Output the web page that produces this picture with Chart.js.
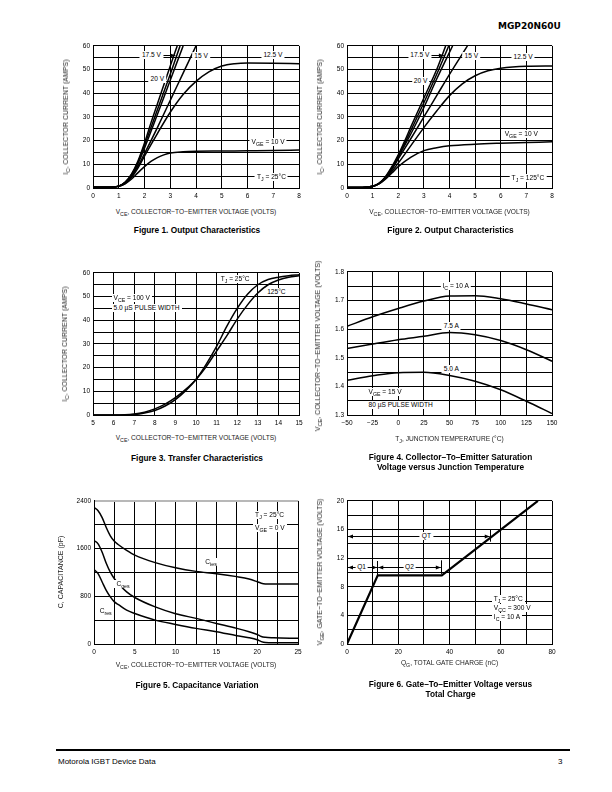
<!DOCTYPE html>
<html>
<head>
<meta charset="utf-8">
<script src="https://cdn.jsdelivr.net/npm/chart.js@4.4.1/dist/chart.umd.min.js"></script>
<style>
  body { margin:0; width:612px; height:792px; position:relative; background:#fff; overflow:hidden;
         font-family:"Liberation Sans", Arial, Helvetica, sans-serif; color:#000; }
  .wrap { position:absolute; }
  .lbl  { position:absolute; font-size:6.6px; line-height:8px; background:#fff; padding:0 2px; white-space:nowrap; }
  .ax   { position:absolute; font-size:6.6px; line-height:8px; white-space:nowrap; color:#222; }
  .ax.x { transform:translate(-50%,-50%); }
  .ax.y { font-size:7px; transform:translate(-50%,-50%) rotate(-90deg); }
  sub   { font-size:0.8em; vertical-align:-0.35em; line-height:0; }
  .cap  { position:absolute; font-size:8.3px; font-weight:bold; line-height:10px; text-align:center;
          transform:translateX(-50%); white-space:nowrap; }
  #hdr  { position:absolute; left:498px; top:19.5px; font:bold 9px "DejaVu Sans", sans-serif; line-height:12px; }
  #rule { position:absolute; left:56px; top:749px; width:514px; height:2px; background:#000; }
  .foot { position:absolute; top:757px; font-size:8px; line-height:10px; }
</style>
</head>
<body>
<div id="hdr">MGP20N60U</div>
<div id="rule"></div>
<div class="foot" style="left:58px">Motorola IGBT Device Data</div>
<div class="foot" style="left:558px">3</div>

<script>
'use strict';

// ── Data ───────────────────────────────────────────────────────────────────

// Figure 1: output characteristics, TJ = 25°C  (VCE volts -> IC amps)
const fig1X20   = [0, 0.6, 1, 1.25, 1.5, 1.75, 2, 2.25, 2.5, 3, 3.27];
const fig1Y20   = [0.3, 0.3, 0.8, 2.5, 6, 11.5, 19, 27.5, 35.5, 51.5, 60];
const fig1X175  = [0, 0.6, 1, 1.25, 1.5, 1.75, 2, 2.25, 2.5, 3, 3.38];
const fig1Y175  = [0.3, 0.3, 0.8, 2.4, 5.7, 11, 18, 25.5, 33, 48, 60];
const fig1XMid  = [0, 0.6, 1, 1.25, 1.5, 1.75, 2, 2.5, 3, 3.5];
const fig1YMid  = [0.3, 0.3, 0.8, 2.3, 5.4, 10.4, 16.8, 31, 45.5, 60];
const fig1X15   = [0, 0.6, 1, 1.25, 1.5, 1.75, 2, 2.5, 3, 3.5, 4];
const fig1Y15   = [0.3, 0.3, 0.8, 2.2, 5, 9.3, 14.5, 25.5, 37, 48.5, 60];
const fig1X125  = [0, 0.6, 1, 1.25, 1.5, 1.75, 2, 2.5, 3, 3.5, 4, 4.5, 5, 5.5, 6, 7, 8];
const fig1Y125  = [0.3, 0.3, 0.7, 2, 4.5, 8.5, 13.5, 23, 32, 39.5, 45, 49, 51.5, 52.5, 52.8, 52.7, 52.5];
const fig1X10   = [0, 0.6, 1, 1.25, 1.5, 1.75, 2, 2.25, 2.5, 2.75, 3, 3.5, 4, 5, 6, 7, 8];
const fig1Y10   = [0.3, 0.3, 0.7, 1.8, 3.8, 6.5, 9, 11.2, 12.8, 14, 14.8, 15.3, 15.5, 15.6, 15.7, 15.8, 16];

// Figure 2: output characteristics, TJ = 125°C
const fig2X20   = [0, 0.6, 1, 1.25, 1.5, 1.75, 2, 2.25, 2.5, 3, 3.5, 3.85];
const fig2Y20   = [0.2, 0.2, 0.7, 2, 4.8, 9, 14, 19.8, 26, 38, 50, 60];
const fig2X175  = [0, 0.6, 1, 1.25, 1.5, 1.75, 2, 2.25, 2.5, 3, 3.5, 3.97];
const fig2Y175  = [0.2, 0.2, 0.7, 2, 4.6, 8.6, 13.5, 18.8, 24.5, 36, 48, 60];
const fig2XMid  = [0, 0.6, 1, 1.25, 1.5, 1.75, 2, 2.5, 3, 3.5, 4.12];
const fig2YMid  = [0.2, 0.2, 0.7, 1.9, 4.4, 8.2, 13, 23, 34, 46, 60];
const fig2X15   = [0, 0.6, 1, 1.25, 1.5, 1.75, 2, 2.5, 3, 3.5, 4, 4.7];
const fig2Y15   = [0.2, 0.2, 0.7, 1.9, 4.2, 7.8, 12.3, 21, 30, 39, 48, 60];
const fig2X125  = [0, 0.6, 1, 1.25, 1.5, 1.75, 2, 2.5, 3, 3.5, 4, 4.5, 5, 5.5, 6, 7, 8];
const fig2Y125  = [0.2, 0.2, 0.6, 1.8, 4, 7, 10.5, 18, 25.5, 32.5, 39, 44, 47.4, 49.5, 50.6, 51.4, 51.5];
const fig2X10   = [0, 0.6, 1, 1.25, 1.5, 1.75, 2, 2.5, 3, 3.5, 4, 5, 6, 7, 8];
const fig2Y10   = [0.2, 0.2, 0.6, 1.7, 3.7, 6.3, 9, 13, 15.8, 17, 17.8, 18.5, 18.9, 19.2, 19.5];

// Figure 3: transfer characteristics
const fig3Vge   = [5, 6, 7, 7.5, 8, 8.5, 9, 9.5, 10, 10.5, 11, 11.5, 12, 12.5, 13, 13.5, 14, 14.5, 15];
const fig3Ic25  = [0, 0, 0.2, 0.8, 1.9, 3.8, 6.5, 10.3, 15, 21.5, 29, 37.5, 45, 51, 55, 57.2, 58.2, 58.8, 59.2];
const fig3Ic125 = [0, 0, 0.4, 1.2, 2.6, 4.6, 7.3, 10.8, 15, 20.5, 27, 33.5, 40.5, 46.5, 51.5, 55, 57, 58.2, 58.8];

// Figure 4: VCE(sat) vs junction temperature
const fig4Tj    = [-50, -25, 0, 25, 50, 75, 100, 125, 150];
const fig4Ic10  = [1.61, 1.643, 1.672, 1.698, 1.716, 1.717, 1.706, 1.688, 1.668];
const fig4Ic75  = [1.532, 1.548, 1.563, 1.575, 1.588, 1.58, 1.56, 1.528, 1.488];
const fig4Ic5   = [1.421, 1.437, 1.448, 1.449, 1.438, 1.418, 1.388, 1.348, 1.305];

// Figure 5: capacitance variation (pF)
const fig5Vce   = [0, 0.5, 1, 1.5, 2, 2.5, 3, 4, 5, 7.5, 10, 12.5, 15, 17.5, 19, 20, 20.5, 21, 22, 25];
const fig5Cies  = [2290, 2235, 2120, 1955, 1815, 1722, 1665, 1570, 1490, 1365, 1278, 1218, 1180, 1130, 1090, 1045, 1020, 1008, 1005, 1005];
const fig5Coes  = [1735, 1680, 1540, 1355, 1205, 1095, 1010, 875, 780, 622, 508, 430, 345, 262, 205, 160, 125, 112, 105, 95];
const fig5Cres  = [1250, 1180, 1040, 900, 790, 706, 660, 567, 511, 400, 328, 262, 206, 140, 105, 70, 40, 25, 22, 22];

// Figure 6: gate charge
const fig6Qg    = [0, 12, 37, 74.5];
const fig6Vge   = [0, 9.6, 9.6, 20];

// ── Ticks ──────────────────────────────────────────────────────────────────

const outXGrid  = [0, 1, 2, 3, 4, 5, 6, 7, 8];
const outXVals  = [0, 1, 2, 3, 4, 5, 6, 7, 8];
const outXText  = ['0', '1', '2', '3', '4', '5', '6', '7', '8'];
const ampYGrid  = [0, 5, 10, 15, 20, 25, 30, 35, 40, 45, 50, 55, 60];
const ampYVals  = [0, 10, 20, 30, 40, 50, 60];
const ampYText  = ['0', '10', '20', '30', '40', '50', '60'];

const fig3XGrid = [5, 6, 7, 8, 9, 10, 11, 12, 13, 14, 15];
const fig3XText = ['5', '6', '7', '8', '9', '10', '11', '12', '13', '14', '15'];

const fig4XGrid = [-50, -25, 0, 25, 50, 75, 100, 125, 150];
const fig4XText = ['\u221250', '\u221225', '0', '25', '50', '75', '100', '125', '150'];
const fig4YGrid = [1.3, 1.35, 1.4, 1.45, 1.5, 1.55, 1.6, 1.65, 1.7, 1.75, 1.8];
const fig4YVals = [1.3, 1.4, 1.5, 1.6, 1.7, 1.8];
const fig4YText = ['1.3', '1.4', '1.5', '1.6', '1.7', '1.8'];

const fig5XGrid = [0, 2.5, 5, 7.5, 10, 12.5, 15, 17.5, 20, 22.5, 25];
const fig5XVals = [0, 5, 10, 15, 20, 25];
const fig5XText = ['0', '5', '10', '15', '20', '25'];
const fig5YGrid = [0, 400, 800, 1200, 1600, 2000, 2400];
const fig5YVals = [0, 800, 1600, 2400];
const fig5YText = ['0', '800', '1600', '2400'];

const fig6XGrid = [0, 10, 20, 30, 40, 50, 60, 70, 80];
const fig6XVals = [0, 20, 40, 60, 80];
const fig6XText = ['0', '20', '40', '60', '80'];
const fig6YGrid = [0, 2, 4, 6, 8, 10, 12, 14, 16, 18, 20];
const fig6YVals = [0, 4, 8, 12, 16, 20];
const fig6YText = ['0', '4', '8', '12', '16', '20'];

// ── Helpers ────────────────────────────────────────────────────────────────

const FONT = '"Liberation Sans", Arial, Helvetica, sans-serif';
const PAD  = { l: 30, t: 6, r: 10, b: 14 };

function pts(xs, ys) { return xs.map((x, i) => ({ x, y: ys[i] })); }

function labeler(vals, texts) {
  return v => {
    const i = vals.findIndex(t => Math.abs(t - v) < 1e-6);
    return i < 0 ? '' : texts[i];
  };
}

function addDiv(cls, html, css) {
  const d = document.createElement('div');
  d.className = cls;
  d.innerHTML = html;
  Object.assign(d.style, css);
  document.body.appendChild(d);
  return d;
}

function arrowHead(ctx, x, y, dir) {
  ctx.beginPath();
  ctx.moveTo(x, y);
  ctx.lineTo(x - dir * 5, y - 2);
  ctx.lineTo(x - dir * 5, y + 2);
  ctx.closePath();
  ctx.fill();
}

// dimension arrows and ticks, placed in data units
const markPlugin = {
  id: 'marks',
  afterDatasetsDraw(chart, args, opts) {
    const { ctx, scales: { x, y } } = chart;
    ctx.save();
    ctx.strokeStyle = '#000';
    ctx.fillStyle = '#000';
    ctx.lineWidth = 1;
    (opts.items || []).forEach(m => {
      if (m.type === 'tick') {
        const px = Math.round(x.getPixelForValue(m.x)) + 0.5;
        ctx.beginPath();
        ctx.moveTo(px, y.getPixelForValue(m.y1));
        ctx.lineTo(px, y.getPixelForValue(m.y2));
        ctx.stroke();
        return;
      }
      const x1 = x.getPixelForValue(m.x1), x2 = x.getPixelForValue(m.x2);
      const py = Math.round(y.getPixelForValue(m.y)) + 0.5;
      ctx.beginPath();
      ctx.moveTo(x1, py);
      ctx.lineTo(x2, py);
      ctx.stroke();
      if (m.start) arrowHead(ctx, x1, py, -1);
      if (m.end)   arrowHead(ctx, x2, py, 1);
    });
    ctx.restore();
  }
};

function makeChart(cfg) {
  const [L, T, R, B] = cfg.plot;
  const w = R - L + PAD.l + PAD.r;
  const h = B - T + PAD.t + PAD.b;
  const left = L - PAD.l, top = T - PAD.t;

  const wrap = addDiv('wrap', '', { left: left + 'px', top: top + 'px', width: w + 'px', height: h + 'px' });
  const cv = document.createElement('canvas');
  cv.width = w; cv.height = h;
  wrap.appendChild(cv);

  const tickFont = { family: FONT, size: 6.5 };
  const axis = (grid, vals, texts, min, max, isX) => ({
    type: 'linear', min, max,
    grid: {
      // the top frame line of figure 5 is a light grey rule in the original
      color: c => (!isX && cfg.greyTop && c.tick && c.tick.value === max) ? '#b8b8b8' : '#000',
      lineWidth: c => (!isX && cfg.greyTop && c.tick && c.tick.value === max) ? 2 : 1,
      drawTicks: false
    },
    border: { color: '#000', width: 1 },
    ticks: {
      color: '#000', font: tickFont, padding: isX ? 4 : 3,
      autoSkip: false, maxRotation: 0,
      callback: labeler(vals, texts)
    },
    afterBuildTicks: s => { s.ticks = grid.map(v => ({ value: v })); },
    afterFit: s => { if (isX) s.height = PAD.b; else s.width = PAD.l; }
  });

  const chart = new Chart(cv, {
    type: 'scatter',
    data: {
      datasets: cfg.series.map(s => ({
        data: pts(s.x, s.y),
        showLine: true,
        borderColor: '#000',
        borderWidth: s.w || 1.5,
        pointRadius: 0,
        tension: s.straight ? 0 : 0.4,
        cubicInterpolationMode: s.straight ? 'default' : 'monotone'
      }))
    },
    options: {
      responsive: false,
      animation: false,
      devicePixelRatio: 1,
      layout: { padding: { left: 0, top: PAD.t, right: PAD.r, bottom: 0 } },
      plugins: { legend: { display: false }, tooltip: { enabled: false }, marks: { items: cfg.marks || [] } },
      scales: {
        x: axis(cfg.xGrid, cfg.xVals, cfg.xText, cfg.xMin, cfg.xMax, true),
        y: axis(cfg.yGrid, cfg.yVals, cfg.yText, cfg.yMin, cfg.yMax, false)
      }
    },
    plugins: [markPlugin]
  });

  // in-plot labels, white boxes over the grid
  (cfg.labels || []).forEach(l => {
    addDiv('lbl', l.t, {
      left: (left + chart.scales.x.getPixelForValue(l.x)) + 'px',
      top:  (top + chart.scales.y.getPixelForValue(l.y)) + 'px',
      transform: l.a === 'l' ? 'translate(0,-50%)' : 'translate(-50%,-50%)'
    });
  });

  // axis titles and caption
  addDiv('ax x', cfg.xTitle, { left: ((L + R) / 2) + 'px', top: cfg.xTitleY + 'px' });
  addDiv('ax y', cfg.yTitle, { left: cfg.yTitleX + 'px', top: ((T + B) / 2 + (cfg.yTitleDy || 0)) + 'px' });
  addDiv('cap', cfg.caption, { left: ((L + R) / 2 + 1) + 'px', top: cfg.capY + 'px' });
  return chart;
}

const VCE_TITLE = 'V<sub>CE</sub>, COLLECTOR\u2212TO\u2212EMITTER VOLTAGE (VOLTS)';

// ── Figures ────────────────────────────────────────────────────────────────

makeChart({
  plot: [93, 45, 299, 188],
  xMin: 0, xMax: 8, yMin: 0, yMax: 60,
  xGrid: outXGrid, xVals: outXVals, xText: outXText,
  yGrid: ampYGrid, yVals: ampYVals, yText: ampYText,
  series: [
    { x: fig1X20, y: fig1Y20 }, { x: fig1X175, y: fig1Y175 }, { x: fig1XMid, y: fig1YMid },
    { x: fig1X15, y: fig1Y15 }, { x: fig1X125, y: fig1Y125 }, { x: fig1X10, y: fig1Y10 }
  ],
  marks: [{ x1: 2.72, x2: 3.2, y: 56.3, end: true }],
  labels: [
    { x: 2.27, y: 56.3, t: '17.5 V' }, { x: 4.2, y: 55.6, t: '15 V' }, { x: 6.99, y: 56, t: '12.5 V' },
    { x: 2.5, y: 46, t: '20 V' }, { x: 6.8, y: 19.6, t: 'V<sub>GE</sub> = 10 V' },
    { x: 6.93, y: 4.8, t: 'T<sub>J</sub> = 25°C' }
  ],
  xTitle: VCE_TITLE, xTitleY: 211.5,
  yTitle: 'I<sub>C</sub>, COLLECTOR CURRENT (AMPS)', yTitleX: 66,
  caption: 'Figure 1. Output Characteristics', capY: 225
});

makeChart({
  plot: [347, 45, 552, 188],
  xMin: 0, xMax: 8, yMin: 0, yMax: 60,
  xGrid: outXGrid, xVals: outXVals, xText: outXText,
  yGrid: ampYGrid, yVals: ampYVals, yText: ampYText,
  series: [
    { x: fig2X20, y: fig2Y20 }, { x: fig2X175, y: fig2Y175 }, { x: fig2XMid, y: fig2YMid },
    { x: fig2X15, y: fig2Y15 }, { x: fig2X125, y: fig2Y125 }, { x: fig2X10, y: fig2Y10 }
  ],
  marks: [{ x1: 3.28, x2: 3.78, y: 56.2, end: true }],
  labels: [
    { x: 2.84, y: 56.2, t: '17.5 V' }, { x: 4.85, y: 55.6, t: '15 V' }, { x: 6.87, y: 55.5, t: '12.5 V' },
    { x: 2.87, y: 45, t: '20 V' }, { x: 6.8, y: 22.8, t: 'V<sub>GE</sub> = 10 V' },
    { x: 7.06, y: 4.3, t: 'T<sub>J</sub> = 125°C' }
  ],
  xTitle: VCE_TITLE, xTitleY: 211.5,
  yTitle: 'I<sub>C</sub>, COLLECTOR CURRENT (AMPS)', yTitleX: 320,
  caption: 'Figure 2. Output Characteristics', capY: 225
});

makeChart({
  plot: [93, 272, 299, 415],
  xMin: 5, xMax: 15, yMin: 0, yMax: 60,
  xGrid: fig3XGrid, xVals: fig3XGrid, xText: fig3XText,
  yGrid: ampYGrid, yVals: ampYVals, yText: ampYText,
  series: [{ x: fig3Vge, y: fig3Ic25 }, { x: fig3Vge, y: fig3Ic125 }],
  labels: [
    { x: 11.9, y: 57.5, t: 'T<sub>J</sub> = 25°C' }, { x: 13.9, y: 51.8, t: '125°C' },
    { x: 5.9, y: 49.6, t: 'V<sub>CE</sub> = 100 V', a: 'l' },
    { x: 5.9, y: 45.3, t: '5.0 µS PULSE WIDTH', a: 'l' }
  ],
  xTitle: VCE_TITLE, xTitleY: 438,
  yTitle: 'I<sub>C</sub>, COLLECTOR CURRENT (AMPS)', yTitleX: 65,
  caption: 'Figure 3. Transfer Characteristics', capY: 453
});

makeChart({
  plot: [347, 271, 552, 415],
  xMin: -50, xMax: 150, yMin: 1.3, yMax: 1.8,
  xGrid: fig4XGrid, xVals: fig4XGrid, xText: fig4XText,
  yGrid: fig4YGrid, yVals: fig4YVals, yText: fig4YText,
  series: [{ x: fig4Tj, y: fig4Ic10 }, { x: fig4Tj, y: fig4Ic75 }, { x: fig4Tj, y: fig4Ic5 }],
  labels: [
    { x: 56, y: 1.75, t: 'I<sub>C</sub> = 10 A' }, { x: 51.8, y: 1.61, t: '7.5 A' },
    { x: 51.8, y: 1.462, t: '5.0 A' },
    { x: -31, y: 1.379, t: 'V<sub>GE</sub> = 15 V', a: 'l' },
    { x: -31, y: 1.336, t: '80 µS PULSE WIDTH', a: 'l' }
  ],
  xTitle: 'T<sub>J</sub>, JUNCTION TEMPERATURE (°C)', xTitleY: 439,
  yTitle: VCE_TITLE, yTitleX: 318, yTitleDy: 3,
  caption: 'Figure 4. Collector\u2013To\u2013Emitter Saturation<br>Voltage versus Junction Temperature', capY: 452
});

makeChart({
  plot: [94, 500, 298, 644],
  xMin: 0, xMax: 25, yMin: 0, yMax: 2400,
  xGrid: fig5XGrid, xVals: fig5XVals, xText: fig5XText,
  yGrid: fig5YGrid, yVals: fig5YVals, yText: fig5YText,
  greyTop: true,
  series: [{ x: fig5Vce, y: fig5Cies }, { x: fig5Vce, y: fig5Coes }, { x: fig5Vce, y: fig5Cres }],
  labels: [
    { x: 19.5, y: 2170, t: 'T<sub>J</sub> = 25°C', a: 'l' },
    { x: 19.5, y: 1950, t: 'V<sub>GE</sub> = 0 V', a: 'l' },
    { x: 13.4, y: 1372, t: 'C<sub>ies</sub>', a: 'l' },
    { x: 2.5, y: 1000, t: 'C<sub>oes</sub>', a: 'l' },
    { x: 0.45, y: 555, t: 'C<sub>res</sub>', a: 'l' }
  ],
  xTitle: VCE_TITLE, xTitleY: 665,
  yTitle: 'C, CAPACITANCE (pF)', yTitleX: 61,
  caption: 'Figure 5. Capacitance Variation', capY: 680
});

makeChart({
  plot: [347, 500, 552, 644],
  xMin: 0, xMax: 80, yMin: 0, yMax: 20,
  xGrid: fig6XGrid, xVals: fig6XVals, xText: fig6XText,
  yGrid: fig6YGrid, yVals: fig6YVals, yText: fig6YText,
  series: [{ x: fig6Qg, y: fig6Vge, w: 2.2, straight: true }],
  marks: [
    { x1: 0.4, x2: 55.7, y: 15.1, start: true, end: true },
    { type: 'tick', x: 55.7, y1: 14.3, y2: 16 },
    { x1: 0.4, x2: 11.7, y: 10.7, start: true, end: true },
    { x1: 12.2, x2: 36.6, y: 10.7, start: true, end: true },
    { type: 'tick', x: 11.9, y1: 9.6, y2: 11.6 },
    { type: 'tick', x: 36.8, y1: 9.8, y2: 11.7 }
  ],
  labels: [
    { x: 31, y: 15.1, t: 'QT' }, { x: 5.7, y: 10.7, t: 'Q1' }, { x: 24.4, y: 10.7, t: 'Q2' },
    { x: 56.5, y: 6.3, t: 'T<sub>J</sub> = 25°C', a: 'l' },
    { x: 56.5, y: 5.05, t: 'V<sub>CC</sub> = 300 V', a: 'l' },
    { x: 56.5, y: 3.8, t: 'I<sub>C</sub> = 10 A', a: 'l' }
  ],
  xTitle: 'Q<sub>G</sub>, TOTAL GATE CHARGE (nC)', xTitleY: 663,
  yTitle: 'V<sub>GE</sub>, GATE\u2212TO\u2212EMITTER VOLTAGE (VOLTS)', yTitleX: 320,
  caption: 'Figure 6. Gate\u2013To\u2013Emitter Voltage versus<br>Total Charge', capY: 679
});
</script>
</body>
</html>
